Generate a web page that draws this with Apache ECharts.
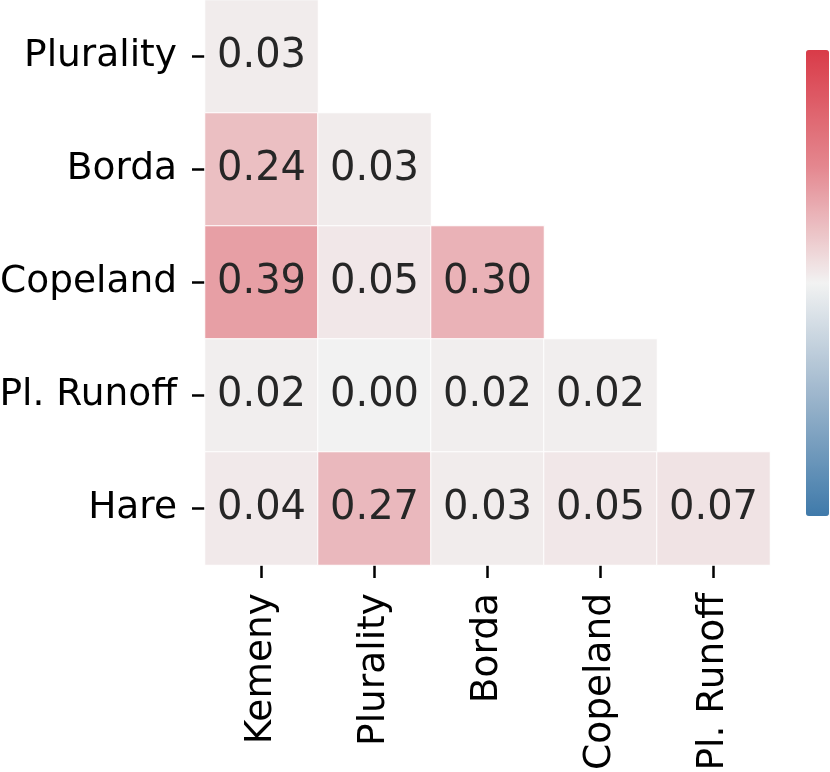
<!DOCTYPE html>
<html>
<head>
<meta charset="utf-8">
<script src="https://cdn.jsdelivr.net/npm/echarts@6/dist/echarts.min.js"></script>
<style>
html,body{margin:0;padding:0;background:#fff;}
#chart{width:830px;height:772px;}
</style>
</head>
<body>
<div id="chart"></div>
<script>
const xCategories = ['Kemeny', 'Plurality', 'Borda', 'Copeland', 'Pl. Runoff'];
const yCategories = ['Plurality', 'Borda', 'Copeland', 'Pl. Runoff', 'Hare'];
const rowPlurality = [0.03];
const rowBorda = [0.24, 0.03];
const rowCopeland = [0.39, 0.05, 0.30];
const rowPlRunoff = [0.02, 0.00, 0.02, 0.02];
const rowHare = [0.04, 0.27, 0.03, 0.05, 0.07];
const rows = [rowPlurality, rowBorda, rowCopeland, rowPlRunoff, rowHare];

const data = [];
rows.forEach((r, yi) => r.forEach((v, xi) => data.push([xi, yi, v])));

const chart = echarts.init(document.getElementById('chart'));
const font = 'DejaVu Sans';
chart.setOption({
  animation: false,
  backgroundColor: '#fff',
  grid: {left: 205, right: 60, top: 0, height: 565, containLabel: false, outerBoundsMode: 'none'},
  xAxis: {
    type: 'category', data: xCategories, position: 'bottom',
    axisLine: {show: false},
    axisTick: {show: true, alignWithLabel: true, length: 13, lineStyle: {color: '#000', width: 2.5}},
    axisLabel: {rotate: 90, margin: 28, color: '#000', fontSize: 37.5, fontFamily: font},
    splitLine: {show: false}
  },
  yAxis: {
    type: 'category', data: yCategories, inverse: true,
    axisLine: {show: false},
    axisTick: {show: true, alignWithLabel: true, length: 13, lineStyle: {color: '#000', width: 2.5}},
    axisLabel: {margin: 28, color: '#000', fontSize: 37.5, fontFamily: font},
    splitLine: {show: false}
  },
  visualMap: {
    type: 'continuous', min: -1, max: 1, calculable: false,
    orient: 'vertical', right: 1, top: 50, itemWidth: 23, itemHeight: 466,
    padding: 0, text: null, showLabel: false, hoverLink: false,
    inRange: {color: ['#3f7aaa', '#9ab4cb', '#f2f2f2', '#e4878f', '#d93b48']}
  },
  series: [{
    type: 'heatmap', data: data,
    itemStyle: {borderColor: '#fff', borderWidth: 1},
    label: {
      show: true, color: '#262626', fontSize: 40, fontFamily: font,
      formatter: p => p.value[2].toFixed(2)
    }
  }]
});
</script>
</body>
</html>
